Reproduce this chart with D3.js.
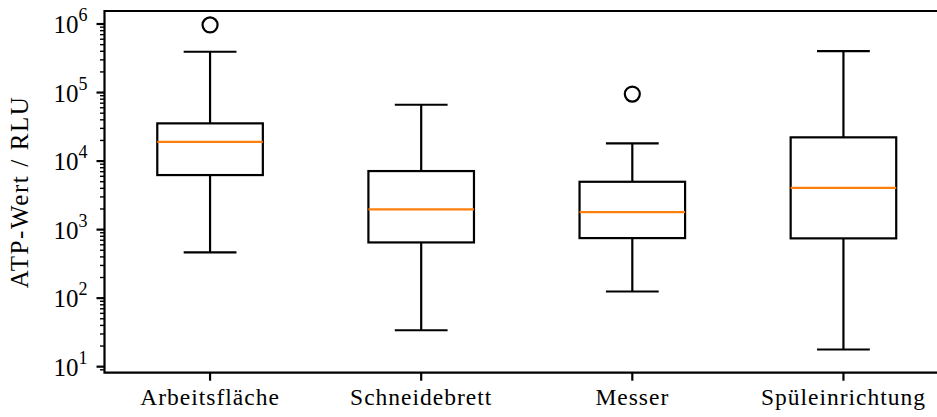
<!DOCTYPE html>
<html><head><meta charset="utf-8">
<script src="https://cdn.jsdelivr.net/npm/d3@7"></script>
<style>body{margin:0;background:#fff}svg{display:block}text{font-family:"Liberation Serif","DejaVu Serif",serif;fill:#000}</style>
</head><body><svg id="c" width="937" height="417"></svg>
<script>
const categories = ["Arbeitsfläche","Schneidebrett","Messer","Spüleinrichtung"];
const whiskerLow  = [465, 34, 125, 17.8];
const q1          = [6250, 650, 752, 745];
const median      = [19100, 1970, 1800, 4070];
const q3          = [35500, 7150, 4990, 22200];
const whiskerHigh = [394000, 66400, 18100, 403000];
const outliers    = [[970000], [], [95000], []];
const yTickExps   = [1,2,3,4,5,6];

const svg = d3.select("#c");
const L = 104.5, R = 949, T = 11, B = 372.7;
const x = d3.scaleLinear().domain([0.5, 4.5]).range([L, R]);
const y = d3.scaleLog().domain([Math.pow(10,0.912), Math.pow(10,6.19)]).range([B, T]);
const bw = 0.5;
const lw = 2.2;
const FS = 23.5;
const g = svg.append("g");

categories.forEach((c,i)=>{
  const p = i+1;
  const cx = x(p), x0 = x(p-bw/2), x1 = x(p+bw/2), c0 = x(p-bw/4), c1 = x(p+bw/4);
  const line = (xa,ya,xb,yb,col)=>g.append("line").attr("x1",xa).attr("y1",ya).attr("x2",xb).attr("y2",yb)
      .attr("stroke",col||"#000").attr("stroke-width",lw).attr("stroke-linecap","butt");
  line(cx,y(q3[i]),cx,y(whiskerHigh[i]));
  line(cx,y(q1[i]),cx,y(whiskerLow[i]));
  line(c0,y(whiskerHigh[i]),c1,y(whiskerHigh[i]));
  line(c0,y(whiskerLow[i]),c1,y(whiskerLow[i]));
  g.append("rect").attr("x",x0).attr("y",y(q3[i])).attr("width",x1-x0).attr("height",y(q1[i])-y(q3[i]))
    .attr("fill","none").attr("stroke","#000").attr("stroke-width",lw);
  line(x0,y(median[i]),x1,y(median[i]),"#ff7f0e");
  outliers[i].forEach(v=>{
    g.append("circle").attr("cx",cx).attr("cy",y(v)).attr("r",7.5).attr("fill","none").attr("stroke","#000").attr("stroke-width",lw);
  });
});

const ax = svg.append("g");
ax.append("path").attr("d",`M${L},${T}H${R}V${B}H${L}Z`).attr("fill","none").attr("stroke","#000").attr("stroke-width",lw);
const [d0,d1] = y.domain();
const minors = [];
for (let e=0;e<=7;e++) for (let m=2;m<=9;m++){ const v=m*Math.pow(10,e); if(v>=d0&&v<=d1) minors.push(v); }
minors.forEach(v=>ax.append("line").attr("x1",L-4.5).attr("x2",L).attr("y1",y(v)).attr("y2",y(v)).attr("stroke","#000").attr("stroke-width",1.4));
yTickExps.forEach(e=>{
  const v = Math.pow(10,e), yy = y(v);
  ax.append("line").attr("x1",L-8).attr("x2",L).attr("y1",yy).attr("y2",yy).attr("stroke","#000").attr("stroke-width",lw);
  const t = ax.append("text").attr("x",L-17).attr("y",yy+9).attr("text-anchor","end").attr("font-size",25);
  t.append("tspan").text("10");
  t.append("tspan").attr("font-size",18).attr("dy",-12).text(String(e));
});
categories.forEach((c,i)=>{
  const xx = x(i+1);
  ax.append("line").attr("x1",xx).attr("x2",xx).attr("y1",B).attr("y2",B+8).attr("stroke","#000").attr("stroke-width",lw);
  ax.append("text").attr("x",xx).attr("y",B+32).attr("text-anchor","middle").attr("font-size",FS).attr("letter-spacing",1).text(c);
});
svg.append("text").attr("transform",`translate(28,${(T+B)/2}) rotate(-90)`).attr("text-anchor","middle").attr("font-size",25).attr("letter-spacing",1.6).text("ATP-Wert / RLU");
</script></body></html>
